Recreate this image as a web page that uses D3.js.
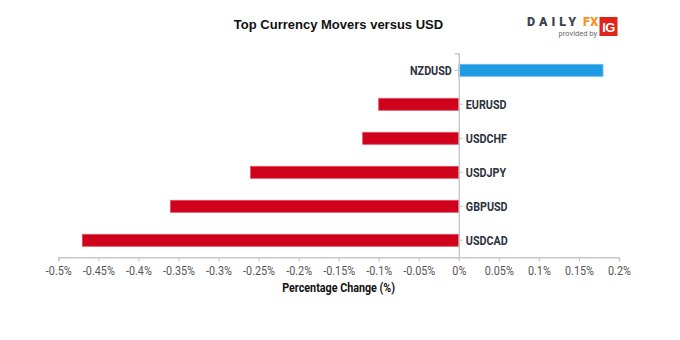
<!DOCTYPE html>
<html>
<head>
<meta charset="utf-8">
<script src="https://cdn.jsdelivr.net/npm/d3@7"></script>
<style>
  html, body { margin: 0; padding: 0; background: #fff; }
  svg { display: block; }
</style>
</head>
<body>
<svg id="chart" width="680" height="340"></svg>
<script>
const categories = ["NZDUSD", "EURUSD", "USDCHF", "USDJPY", "GBPUSD", "USDCAD"];
const changes = [0.18, -0.10, -0.12, -0.26, -0.36, -0.47];
const xTicks = [-0.5, -0.45, -0.4, -0.35, -0.3, -0.25, -0.2, -0.15, -0.1, -0.05, 0, 0.05, 0.1, 0.15, 0.2];
const titleText = "Top Currency Movers versus USD";
const xTitle = "Percentage Change (%)";

(function () {
const svg = d3.select("#chart");
const mLeft = 58.3, mRight = 619, mTop = 53.3, mBottom = 257.3;

// emulate a condensed face by squeezing glyphs horizontally
function condense(sel, factor) {
  sel.each(function () {
    const w = this.getComputedTextLength();
    d3.select(this).attr("textLength", w * factor).attr("lengthAdjust", "spacingAndGlyphs");
  });
}

const x = d3.scaleLinear().domain([-0.5, 0.2]).range([mLeft, mRight]);
const y = d3.scaleBand().domain(categories).range([mTop, mBottom])
  .paddingInner(22 / 34).paddingOuter(11 / 34);

const data = categories.map((c, i) => ({ c, v: changes[i] }));

// title
svg.append("text")
  .attr("x", 338.5).attr("y", 28.5)
  .attr("text-anchor", "middle")
  .attr("font-family", "'Liberation Sans', Arial, sans-serif")
  .attr("font-weight", "bold").attr("font-size", 13)
  .attr("fill", "#111")
  .text(titleText);

// logo
const logo = svg.append("g");
logo.append("text").attr("x", 527).attr("y", 26)
  .attr("font-family", "Roboto, sans-serif").attr("font-weight", 900)
  .attr("font-size", 12.5).attr("letter-spacing", 4).attr("fill", "#3b4350")
  .text("DAILY");
logo.append("text").attr("x", 583).attr("y", 26)
  .attr("font-family", "Roboto, sans-serif").attr("font-weight", 900)
  .attr("font-size", 12.5).attr("letter-spacing", 0.5).attr("fill", "#f7931e")
  .text("FX");
logo.append("text").attr("x", 597).attr("y", 35.5)
  .attr("text-anchor", "end")
  .attr("font-family", "Roboto, sans-serif").attr("font-size", 7.5).attr("fill", "#666")
  .text("provided by");
logo.append("rect").attr("x", 599.5).attr("y", 17).attr("width", 18).attr("height", 19)
  .attr("fill", "#e2231a");
logo.append("text").attr("x", 608.5).attr("y", 31.5)
  .attr("text-anchor", "middle")
  .attr("font-family", "'Liberation Sans', Arial, sans-serif").attr("font-weight", "bold")
  .attr("font-size", 13).attr("fill", "#fff").attr("letter-spacing", -0.5)
  .text("IG");

// bars
svg.append("g").selectAll("rect").data(data).join("rect")
  .attr("x", d => x(Math.min(0, d.v)))
  .attr("width", d => Math.abs(x(d.v) - x(0)))
  .attr("y", d => y(d.c))
  .attr("height", y.bandwidth())
  .attr("fill", d => d.v >= 0 ? "#1f9ae3" : "#d0021b")
  .attr("stroke", d => d.v >= 0 ? "#63bdf0" : "#e0505f")
  .attr("stroke-width", 0.8);

// x axis
const xAxis = svg.append("g")
  .attr("transform", `translate(0,${mBottom})`)
  .call(d3.axisBottom(x).tickValues(xTicks)
    .tickFormat(d => `${+d.toFixed(2)}%`)
    .tickSizeInner(4).tickSizeOuter(4).tickPadding(5));
xAxis.select(".domain").attr("stroke", "#c8c8c8").attr("stroke-width", 1.5);
xAxis.selectAll(".tick line").attr("stroke", "#c8c8c8").attr("stroke-width", 1.2);
xAxis.selectAll(".tick text")
  .attr("font-family", "Roboto, sans-serif").attr("font-size", 12)
  .attr("fill", "#555")
  .call(condense, 0.9);

// y axis
const x0 = x(0);
const yAxis = svg.append("g")
  .attr("transform", `translate(${x0},0)`)
  .call(d3.axisLeft(y).tickSizeInner(0).tickSizeOuter(4).tickFormat(""));
yAxis.select(".domain").attr("stroke", "#c8c8c8").attr("stroke-width", 1.5);
yAxis.selectAll(".tick").remove();

const yt = svg.append("g").selectAll("g").data(data).join("g")
  .attr("transform", d => `translate(${x0},${y(d.c) + y.bandwidth() / 2})`);
yt.append("line")
  .attr("x1", d => d.v >= 0 ? -4 : 0)
  .attr("x2", d => d.v >= 0 ? 0 : 4)
  .attr("stroke", "#c8c8c8").attr("stroke-width", 1.2);
yt.append("text")
  .attr("x", d => d.v >= 0 ? -7 : 7)
  .attr("dy", "0.36em")
  .attr("text-anchor", d => d.v >= 0 ? "end" : "start")
  .attr("font-family", "Roboto, sans-serif").attr("font-weight", "bold")
  .attr("font-size", 12.5).attr("fill", "#2d3240")
  .text(d => d.c)
  .call(condense, 0.86);

// x title
svg.append("text")
  .attr("x", (mLeft + mRight) / 2).attr("y", 292)
  .attr("text-anchor", "middle")
  .attr("font-family", "Roboto, sans-serif").attr("font-weight", "bold")
  .attr("font-size", 12.5).attr("fill", "#111")
  .text(xTitle)
  .call(condense, 0.86);
})();
</script>
</body>
</html>
